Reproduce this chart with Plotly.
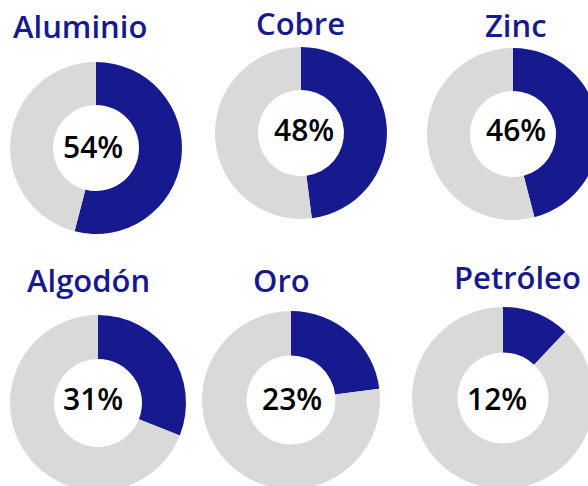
import plotly.graph_objects as go

# ---- data ----
commodities = ["Aluminio", "Cobre", "Zinc", "Algodón", "Oro", "Petróleo"]
shares = [54, 48, 46, 31, 23, 12]

# ---- layout (pixel positions) ----
W, H = 602, 494
donut_cx = [96, 301, 513, 98, 291, 503]
donut_cy = [148, 133, 134, 403, 400, 398]
donut_r = [86, 86, 86, 88, 89, 91]
title_cx = [80, 300, 516, 88, 281, 517]
title_cy = [26, 23, 25, 280, 280, 277]
label_cx = [93, 304, 516, 93, 292, 497]
label_cy = [146, 129, 129, 398, 398, 398]

NAVY = "#171a8f"
GREY = "#d9d9d9"

fig = go.Figure()
annotations = []
for i, name in enumerate(commodities):
    cx, cy, r = donut_cx[i], donut_cy[i], donut_r[i]
    fig.add_trace(go.Pie(
        values=[shares[i], 100 - shares[i]],
        labels=[name, "Resto"],
        hole=0.5,
        sort=False,
        direction="clockwise",
        rotation=0,
        marker=dict(colors=[NAVY, GREY], line=dict(width=0)),
        textinfo="none",
        hoverinfo="skip",
        showlegend=False,
        domain=dict(x=[(cx - r) / W, (cx + r) / W],
                    y=[(H - cy - r) / H, (H - cy + r) / H]),
    ))
    annotations.append(dict(
        text=name, x=title_cx[i] / W, y=1 - title_cy[i] / H,
        xref="paper", yref="paper", xanchor="center", yanchor="middle",
        showarrow=False,
        font=dict(family="Open Sans, sans-serif", size=31, color=NAVY, weight=600),
    ))
    annotations.append(dict(
        text=f"{shares[i]}%", x=label_cx[i] / W, y=1 - label_cy[i] / H,
        xref="paper", yref="paper", xanchor="center", yanchor="middle",
        showarrow=False,
        font=dict(family="Open Sans, sans-serif", size=30, color="#000000", weight=600),
    ))

fig.update_layout(
    width=W, height=H,
    margin=dict(l=0, r=0, t=0, b=0),
    paper_bgcolor="white",
    plot_bgcolor="white",
    annotations=annotations,
)

fig.write_html(
    "out.html",
    config={"displayModeBar": False},
    post_script="document.body.style.margin='0';document.body.style.overflow='hidden';document.documentElement.style.overflow='hidden';",
)
